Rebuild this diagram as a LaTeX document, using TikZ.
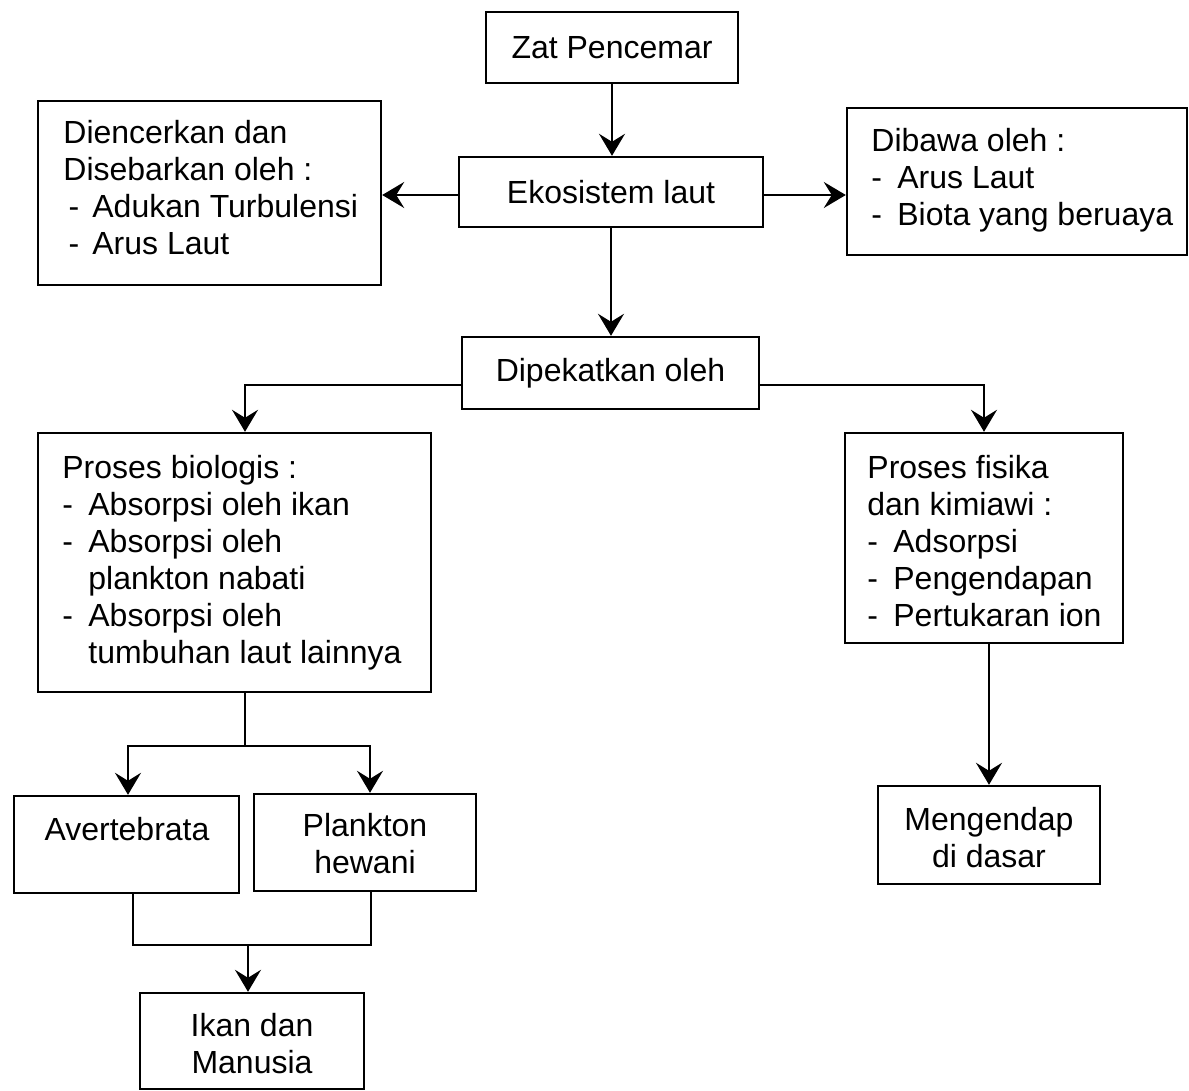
\documentclass[tikz,border=0pt]{standalone}
\usepackage{fontspec}
\setmainfont{Liberation Sans}
\usetikzlibrary{arrows.meta,calc}
\begin{document}
\begin{tikzpicture}[x=0.5pt,y=-0.5pt,
  box/.style={draw,line width=1.2pt,inner sep=0pt},
  txt/.style={inner sep=0pt,align=left,font=\fontsize{16}{18.5}\selectfont},
  ctxt/.style={inner sep=0pt,align=center,font=\fontsize{16}{18.5}\selectfont},
  arr/.style={line width=1.1pt,-{Stealth[length=11pt,width=13pt,inset=4pt]}},
  ln/.style={line width=1.1pt}]
\useasboundingbox[fill=white] (0,0) rectangle (1189,1091);
\newcommand{\dsh}[1]{\makebox[13pt][l]{-}#1}
\newcommand{\ind}[1]{\hspace*{13pt}#1}
% boxes
\node[box,minimum width=126pt,minimum height=35.5pt] (zat) at (612,47.5) {};
\node[ctxt] at (zat) {Zat Pencemar};
\node[box,minimum width=152pt,minimum height=35pt] (eko) at (611,192) {};
\node[ctxt] at (eko) {Ekosistem laut};
\node[box,minimum width=171.5pt,minimum height=92pt] (left) at (209.5,193) {};
\node[txt,anchor=north west] at (63,120) {Diencerkan dan\\Disebarkan oleh :\\\makebox[14.5pt][l]{\,-}Adukan Turbulensi\\\makebox[14.5pt][l]{\,-}Arus Laut};
\node[box,minimum width=170pt,minimum height=73.5pt] (right) at (1017,181.5) {};
\node[txt,anchor=north west] at (871,128) {Dibawa oleh :\\\makebox[13pt][l]{-}Arus Laut\\\makebox[13pt][l]{-}Biota yang beruaya};
\node[box,minimum width=148.5pt,minimum height=36pt] (dip) at (610.5,373) {};
\node[ctxt] at (dip) {Dipekatkan oleh};
\node[box,minimum width=196.5pt,minimum height=129.5pt] (bio) at (234.5,562.5) {};
\node[txt,anchor=north west] at (62,455) {Proses biologis :\\\dsh{Absorpsi oleh ikan}\\\dsh{Absorpsi oleh}\\\ind{plankton nabati}\\\dsh{Absorpsi oleh}\\\ind{tumbuhan laut lainnya}};
\node[box,minimum width=139pt,minimum height=105pt] (fis) at (984,538) {};
\node[txt,anchor=north west] at (867,455) {Proses fisika\\dan kimiawi :\\\dsh{Adsorpsi}\\\dsh{Pengendapan}\\\dsh{Pertukaran ion}};
\node[box,minimum width=112.5pt,minimum height=48.5pt] (avt) at (126.5,844.5) {};
\node[ctxt] at (127,829) {Avertebrata};
\node[box,minimum width=111pt,minimum height=48.5pt] (plk) at (365,842.5) {};
\node[ctxt] at (365,844) {Plankton\\hewani};
\node[box,minimum width=111pt,minimum height=49pt] (meng) at (989,835) {};
\node[ctxt] at (989,838) {Mengendap\\di dasar};
\node[box,minimum width=112pt,minimum height=48pt] (ikan) at (252,1041) {};
\node[ctxt] at (252,1044) {Ikan dan\\Manusia};
% coordinates
\coordinate (s1) at (245,746);
\coordinate (s2) at (248,945);
% connectors
\draw[arr] (zat.south) -- (zat.south |- eko.north);
\draw[arr] ([yshift=-1.5pt]eko.west) -- ([yshift=-1.5pt]eko.west -| left.east);
\draw[arr] ([yshift=-1.5pt]eko.east) -- ([yshift=-1.5pt]eko.east -| right.west);
\draw[arr] (eko.south) -- (eko.south |- dip.north);
\draw[arr] ([yshift=-6pt]dip.west) -| ([xshift=5.25pt]bio.north);
\draw[arr] ([yshift=-6pt]dip.east) -| (fis.north);
\draw[arr] ([xshift=2.5pt]fis.south) -- ([xshift=2.5pt]fis.south |- meng.north);
\draw[ln] (bio.south -| s1) -- (s1);
\draw[arr] (s1) -| ([xshift=0.75pt]avt.north);
\draw[arr] (s1) -| ([xshift=2.5pt]plk.north);
\draw[ln] ([xshift=3.25pt]avt.south) |- (s2);
\draw[ln] ([xshift=3pt]plk.south) |- (s2);
\draw[arr] (s2) -- (s2 |- ikan.north);
\end{tikzpicture}
\end{document}
